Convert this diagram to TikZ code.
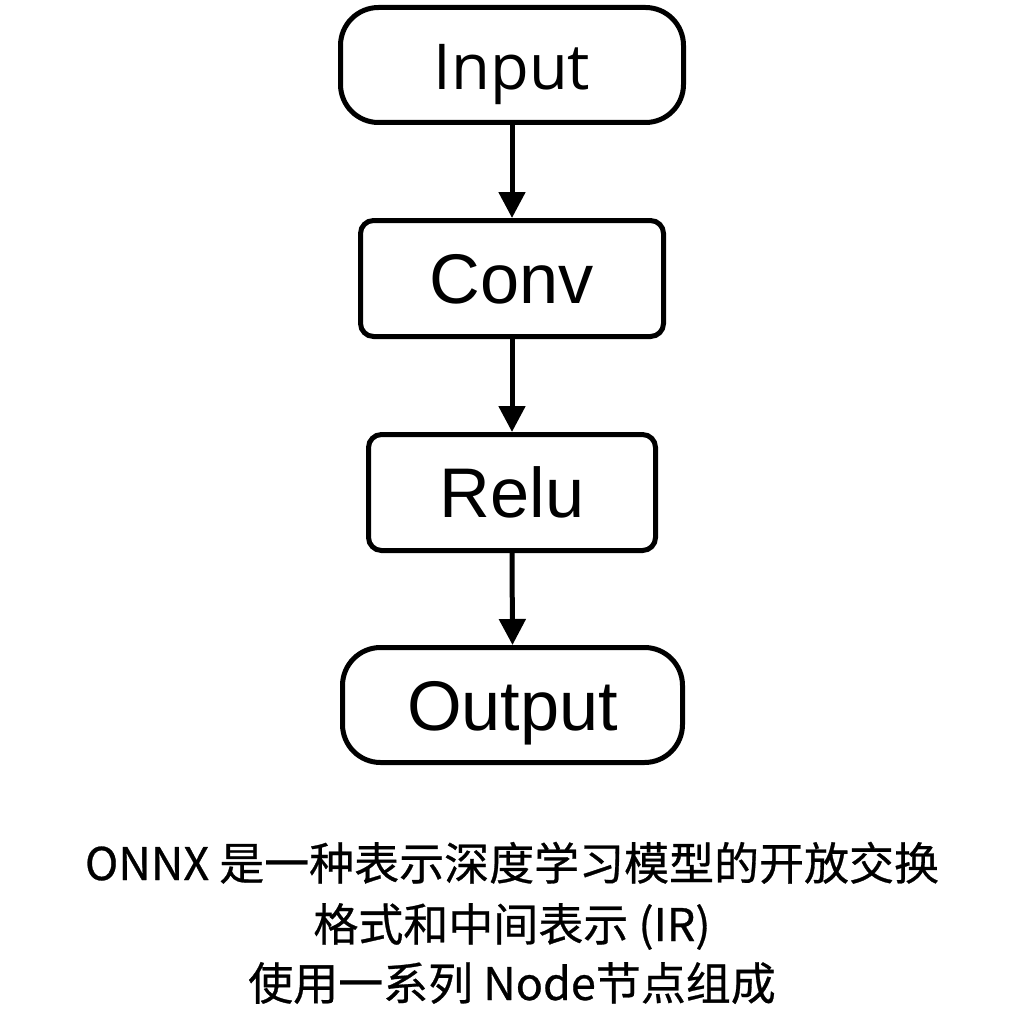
\documentclass[tikz,border=0pt]{standalone}
\usepackage{fontspec}
\setmainfont{Liberation Sans}
\newfontfamily\cjk[FakeBold=0.6]{Noto Sans CJK SC}
\newfontfamily\inputfont{Open Sans}
\usetikzlibrary{arrows.meta}
\tikzset{
  blk/.style={draw=black, line width=0.5mm, fill=white, inner sep=0pt,
    text height=5mm, text depth=0pt, font=\fontsize{20}{24}\selectfont},
  term/.style={blk, rounded corners=3.8mm},
  opbox/.style={blk, rounded corners=1.3mm},
  flow/.style={line width=0.5mm, -{Triangle[length=2.6mm,width=2.6mm]}},
  caption/.style={font=\cjk\fontsize{12.8}{17}\selectfont, anchor=base, inner sep=0pt}
}
\begin{document}
\begin{tikzpicture}[x=0.1mm, y=-0.1mm]
\useasboundingbox[fill=white] (0,0) rectangle (1024,1024);
\node[term, minimum width=34.3mm, minimum height=11.5mm, font=\inputfont\fontsize{18}{22}\selectfont] (in) at (512,65) {Input};
\node[opbox, minimum width=30.3mm, minimum height=11.6mm] (conv) at (512,278.5) {Conv};
\node[opbox, minimum width=28.7mm, minimum height=11.6mm] (relu) at (512,492.5) {Relu};
\node[term, minimum width=34.0mm, minimum height=11.5mm] (out) at (512.5,705) {Output};
\draw[flow] (in.south) -- (conv.north);
\draw[flow] (conv.south) -- (relu.north);
\draw[flow] (relu.south) -- (out.north);
\node[caption] (c1) at (512,880) {ONNX 是一种表示深度学习模型的开放交换};
\node[caption] (c2) at (512,941) {格式和中间表示 (IR)};
\node[caption] (c3) at (512,1000) {使用一系列 Node节点组成};
\end{tikzpicture}
\end{document}
